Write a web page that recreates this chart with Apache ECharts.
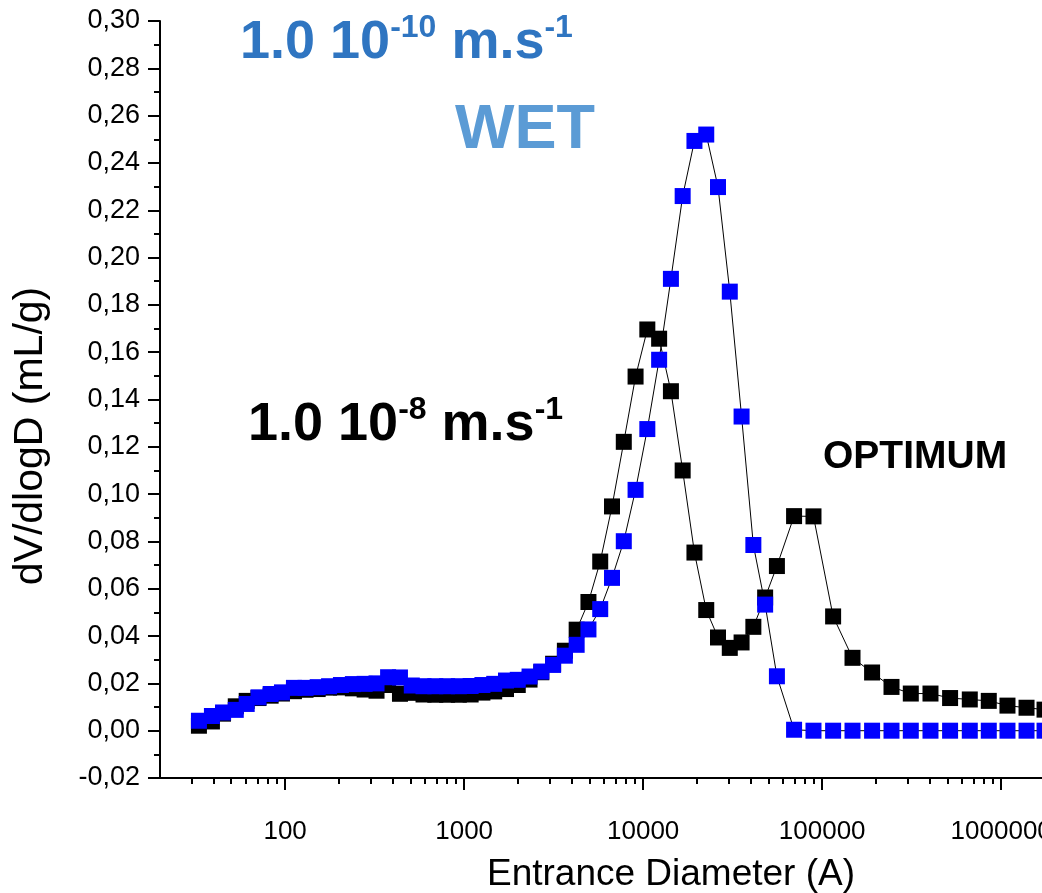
<!DOCTYPE html>
<html>
<head>
<meta charset="utf-8">
<script src="https://cdn.jsdelivr.net/npm/echarts@6/dist/echarts.min.js"></script>
<style>
html,body{margin:0;padding:0;background:#ffffff;}
#chart{width:1042px;height:893px;}
</style>
</head>
<body>
<div id="chart"></div>
<script>
// Entrance diameter (Å) – shared by both curves
const diameters = [33, 39, 45, 53, 61, 71, 83, 96, 112, 130,
  152, 176, 205, 239, 278, 324, 376, 438, 510, 593,
  690, 803, 934, 1087, 1265, 1472, 1713, 1993, 2319, 2698,
  3140, 3653, 4251, 4947, 5756, 6698, 7794, 9069, 10550, 12280,
  14290, 16620, 19340, 22510, 26190, 30470, 35460, 41260, 48010, 55860,
  69660, 89410, 115100, 147700, 190000, 243900, 312600, 402700, 518200, 667600,
  852400, 1084000, 1385000, 1746000];

// OPTIMUM, 1.0 10^-8 m.s^-1 (black)
const optimumValues = [0.0021, 0.0039, 0.0072, 0.0103, 0.0126, 0.0138, 0.0148, 0.0157, 0.0167, 0.0173,
  0.0176, 0.0182, 0.0183, 0.0179, 0.0174, 0.0169, 0.0193, 0.0156, 0.0160, 0.0153,
  0.0152, 0.0152, 0.0152, 0.0153, 0.0161, 0.0166, 0.0176, 0.0193, 0.0216, 0.0247,
  0.0283, 0.0338, 0.0427, 0.0544, 0.0715, 0.0948, 0.1221, 0.1497, 0.1696, 0.1657,
  0.1435, 0.1100, 0.0753, 0.0510, 0.0394, 0.0350, 0.0373, 0.0439, 0.0563, 0.0696,
  0.0907, 0.0906, 0.0483, 0.0308, 0.0246, 0.0185, 0.0157, 0.0157, 0.0138, 0.0132,
  0.0126, 0.0106, 0.0097, 0.0089];

// WET, 1.0 10^-10 m.s^-1 (blue)
const wetValues = [0.0042, 0.0062, 0.0077, 0.0088, 0.0113, 0.0141, 0.0155, 0.0162, 0.0181, 0.0181,
  0.0184, 0.0188, 0.0193, 0.0197, 0.0198, 0.0200, 0.0226, 0.0225, 0.0191, 0.0188,
  0.0188, 0.0188, 0.0188, 0.0189, 0.0193, 0.0198, 0.0212, 0.0215, 0.0229, 0.0250,
  0.0278, 0.0317, 0.0363, 0.0428, 0.0514, 0.0646, 0.0801, 0.1018, 0.1275, 0.1568,
  0.1910, 0.2260, 0.2493, 0.2520, 0.2298, 0.1856, 0.1328, 0.0785, 0.0533, 0.0230,
  0.0004, 0, 0, 0, 0, 0, 0, 0, 0, 0,
  0, 0, 0, 0];

// Axis ticks
const xMajorTickLabels = ['100', '1000', '10000', '100000', '1000000'];
const xMinorTicks = [30, 40, 50, 60, 70, 80, 90,
  200, 300, 400, 500, 600, 700, 800, 900,
  2000, 3000, 4000, 5000, 6000, 7000, 8000, 9000,
  20000, 30000, 40000, 50000, 60000, 70000, 80000, 90000,
  200000, 300000, 400000, 500000, 600000, 700000, 800000, 900000];
const xMin = 20, xMax = 1690000;
const yMin = -0.02, yMax = 0.30, yStep = 0.02;

const FONT = '"Liberation Sans", Arial, Helvetica, sans-serif';
const chart = echarts.init(document.getElementById('chart'), null, {renderer: 'canvas'});

const axisLineStyle = {color: '#000', width: 2};

chart.setOption({
  animation: false,
  backgroundColor: '#ffffff',
  grid: {left: 160, right: 0, top: 21, bottom: 115, containLabel: false, outerBoundsMode: 'none'},
  xAxis: [{
    type: 'log',
    logBase: 10,
    min: xMin,
    max: xMax,
    name: 'Entrance Diameter (A)',
    nameLocation: 'middle',
    nameGap: 78,
    nameTextStyle: {fontFamily: FONT, fontSize: 37, color: '#000', padding: [0, 0, 0, 140]},
    axisLine: {show: true, onZero: false, lineStyle: axisLineStyle},
    axisTick: {show: true, length: 12, inside: false, lineStyle: axisLineStyle},
    axisLabel: {
      show: true, margin: 41, fontFamily: FONT, fontSize: 26, color: '#000',
      showMinLabel: false, showMaxLabel: false,
      formatter: function (v) {
        const s = String(Math.round(v));
        return xMajorTickLabels.indexOf(s) >= 0 ? s : '';
      }
    },
    splitLine: {show: false},
    minorTick: {show: false}
  }, {
    // minor ticks of the log axis (positions at log10 of the tick values)
    type: 'value',
    position: 'bottom',
    min: Math.log10(xMin),
    max: Math.log10(xMax),
    axisLine: {show: false, onZero: false},
    axisTick: {show: true, length: 6, inside: false, lineStyle: axisLineStyle,
      customValues: xMinorTicks.map(function (t) { return Math.log10(t); })},
    axisLabel: {show: false},
    splitLine: {show: false}
  }],
  yAxis: {
    type: 'value',
    min: yMin,
    max: yMax,
    interval: yStep,
    name: 'dV/dlogD (mL/g)',
    nameLocation: 'middle',
    nameGap: 109,
    nameTextStyle: {fontFamily: FONT, fontSize: 41, color: '#000', padding: [0, 73, 0, 0]},
    axisLine: {show: true, onZero: false, lineStyle: axisLineStyle},
    axisTick: {show: true, length: 12, inside: false, lineStyle: axisLineStyle},
    minorTick: {show: true, splitNumber: 2, length: 6, lineStyle: axisLineStyle},
    axisLabel: {
      margin: 20, fontFamily: FONT, fontSize: 27, color: '#000',
      formatter: function (v) { return v.toFixed(2).replace('.', ','); }
    },
    splitLine: {show: false}
  },
  series: [{
    name: 'OPTIMUM',
    type: 'line',
    xAxisIndex: 0,
    data: diameters.map(function (d, i) { return [d, optimumValues[i]]; }),
    symbol: 'rect',
    symbolSize: 16,
    showAllSymbol: true,
    clip: false,
    itemStyle: {color: '#000000'},
    lineStyle: {color: '#000000', width: 1},
    z: 2
  }, {
    name: 'WET',
    type: 'line',
    xAxisIndex: 0,
    data: diameters.map(function (d, i) { return [d, wetValues[i]]; }),
    symbol: 'rect',
    symbolSize: 16,
    showAllSymbol: true,
    clip: false,
    itemStyle: {color: '#0000FF'},
    lineStyle: {color: '#000000', width: 1},
    z: 3
  }],
  graphic: [{
    type: 'text', left: 240, top: 12, z: 10,
    style: {
      text: '{m|1.0 10}{s|-10}{m| m.s}{s|-1}',
      rich: {
        m: {fontFamily: FONT, fontSize: 54, fontWeight: 'bold', fill: '#2F75C1', lineHeight: 62},
        s: {fontFamily: FONT, fontSize: 32, fontWeight: 'bold', fill: '#2F75C1', verticalAlign: 'top', lineHeight: 32}
      }
    }
  }, {
    type: 'text', left: 455, top: 99, z: 10,
    style: {text: 'WET', fontFamily: FONT, fontSize: 63, fontWeight: 'bold', fill: '#5B9BD5'}
  }, {
    type: 'text', left: 248, top: 394, z: 10,
    style: {
      text: '{m|1.0 10}{s|-8}{m| m.s}{s|-1}',
      rich: {
        m: {fontFamily: FONT, fontSize: 54, fontWeight: 'bold', fill: '#000000', lineHeight: 62},
        s: {fontFamily: FONT, fontSize: 32, fontWeight: 'bold', fill: '#000000', verticalAlign: 'top', lineHeight: 32}
      }
    }
  }, {
    type: 'text', left: 823, top: 438, z: 10,
    style: {text: 'OPTIMUM', fontFamily: FONT, fontSize: 39, fontWeight: 'bold', fill: '#000000'}
  }]
});
</script>
</body>
</html>
